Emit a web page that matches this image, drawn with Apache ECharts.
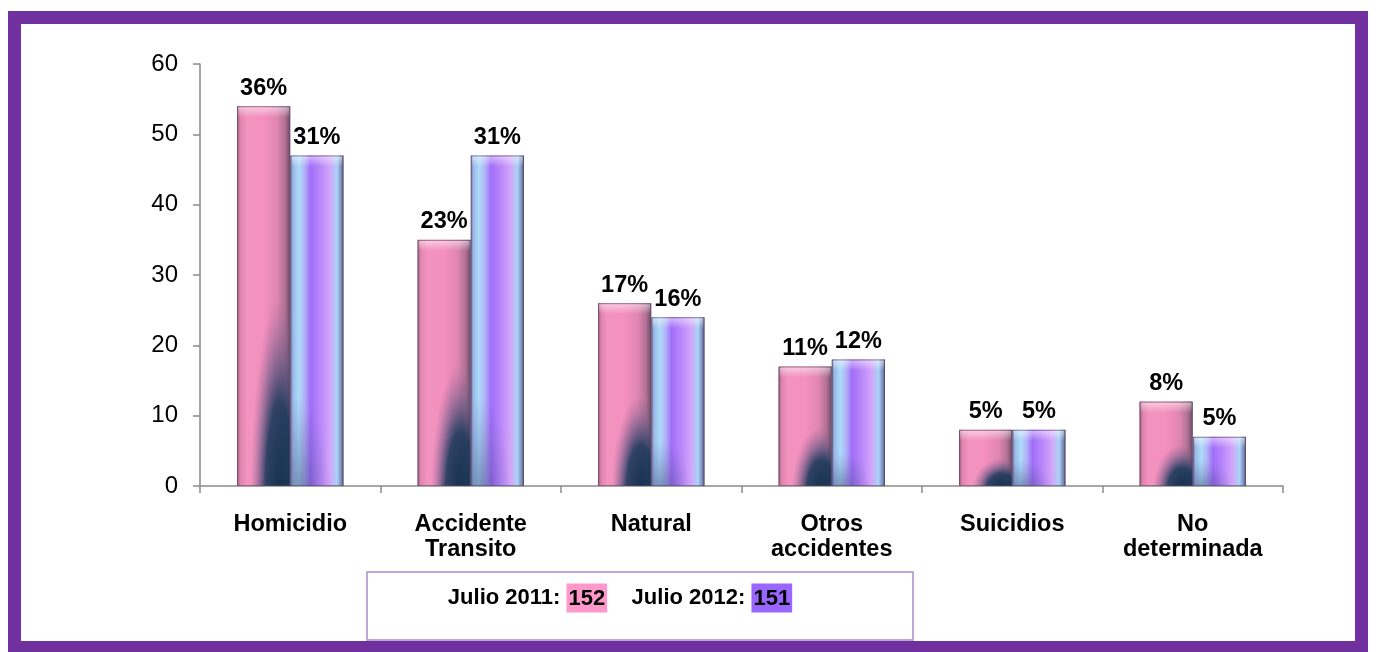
<!DOCTYPE html>
<html>
<head>
<meta charset="utf-8">
<script src="https://cdn.jsdelivr.net/npm/echarts@6/dist/echarts.min.js"></script>
<style>
html,body{margin:0;padding:0;background:#fff;}
#chart{width:1376px;height:652px;}
</style>
</head>
<body>
<div id="chart"></div>
<script>
var categories = ['Homicidio', 'Accidente\nTransito', 'Natural', 'Otros\naccidentes', 'Suicidios', 'No\ndeterminada'];
var values2011 = [54, 35, 26, 17, 8, 12];
var values2012 = [47, 47, 24, 18, 8, 7];
var pct2011 = ['36%', '23%', '17%', '11%', '5%', '8%'];
var pct2012 = ['31%', '31%', '16%', '12%', '5%', '5%'];
var total2011 = 152;
var total2012 = 151;
var yTicks = {min: 0, max: 60, interval: 10};

var FONT = '"Liberation Sans", Arial, Helvetica, sans-serif';
var chart = echarts.init(document.getElementById('chart'));

var BAR_FRACTION = 0.295;

function toData(values) {
  return values.map(function (v, i) { return [i, v]; });
}

var pinkStops = [
  {offset: 0, color: '#8f5a78'},
  {offset: 0.06, color: '#e084ae'},
  {offset: 0.18, color: '#f294bf'},
  {offset: 0.5, color: '#f490be'},
  {offset: 0.75, color: '#e086b2'},
  {offset: 0.9, color: '#b27294'},
  {offset: 1, color: '#6e4a66'}
];
var purpleStops = [
  {offset: 0, color: '#6c6c98'},
  {offset: 0.05, color: '#9ab8e8'},
  {offset: 0.16, color: '#acdcf8'},
  {offset: 0.27, color: '#b2b2f8'},
  {offset: 0.38, color: '#a06ef8'},
  {offset: 0.6, color: '#bf8cfa'},
  {offset: 0.75, color: '#d2a6fa'},
  {offset: 0.88, color: '#a8d4f6'},
  {offset: 0.96, color: '#7a88b8'},
  {offset: 1, color: '#4c4c6c'}
];
var pinkShadow = [
  {offset: 0, color: 'rgba(12,44,72,0.97)'},
  {offset: 0.5, color: 'rgba(22,56,90,0.88)'},
  {offset: 0.78, color: 'rgba(90,86,130,0.4)'},
  {offset: 1, color: 'rgba(150,100,150,0)'}
];
var purpleShadow = [
  {offset: 0, color: 'rgba(30,50,90,0.45)'},
  {offset: 0.6, color: 'rgba(60,70,130,0.18)'},
  {offset: 1, color: 'rgba(90,90,160,0)'}
];

function makeRenderer(side, stops, shadowStops, shadowCx, shadowRx, shadowScale, labels) {
  return function (params, api) {
    var idx = api.value(0);
    var val = api.value(1);
    var p0 = api.coord([idx, 0]);
    var p1 = api.coord([idx, val]);
    var band = api.size([1, 0])[0];
    var bw = band * BAR_FRACTION;
    var left = p0[0] - bw + side * bw;
    var top = p1[1];
    var h = p0[1] - p1[1];
    var rx = bw * shadowRx;
    var ry = Math.max(h * shadowScale, rx);
    var s = ry / rx;
    var capH = Math.min(10, h);
    return {
      type: 'group',
      children: [
        {
          type: 'rect',
          shape: {x: left, y: top, width: bw, height: h},
          style: {fill: new echarts.graphic.LinearGradient(0, 0, 1, 0, stops)},
          textContent: {
            style: {
              text: labels[params.dataIndex],
              fill: '#000',
              fontFamily: FONT,
              fontWeight: 'bold',
              fontSize: 23.5
            }
          },
          textConfig: {position: 'top', distance: 6}
        },
        {
          type: 'rect',
          x: left, y: top, scaleY: s,
          shape: {x: 0, y: 0, width: bw, height: h / s},
          style: {fill: new echarts.graphic.RadialGradient(bw * shadowCx, h / s + rx * 0.1, rx, shadowStops, true)},
          silent: true
        },
        {
          type: 'rect',
          shape: {x: left + 1, y: top + 1, width: bw - 2, height: capH},
          style: {fill: new echarts.graphic.LinearGradient(0, 0, 0, 1, [
            {offset: 0, color: 'rgba(255,255,255,0.5)'},
            {offset: 0.6, color: 'rgba(255,255,255,0.2)'},
            {offset: 1, color: 'rgba(255,255,255,0)'}
          ])},
          silent: true
        },
        {
          type: 'rect',
          shape: {x: left + 0.5, y: top + 0.5, width: bw - 1, height: h - 1},
          style: {fill: 'none', stroke: 'rgba(95,70,100,0.55)', lineWidth: 1},
          silent: true
        }
      ]
    };
  };
}

chart.setOption({
  animation: false,
  backgroundColor: '#fff',
  grid: {left: 200, right: 93, top: 64, bottom: 166, containLabel: false},
  xAxis: {
    type: 'category',
    data: categories,
    axisLine: {show: true, lineStyle: {color: '#8a8a8a', width: 1.5}},
    axisTick: {show: true, length: 7, lineStyle: {color: '#8a8a8a', width: 1.5}},
    axisLabel: {
      color: '#000', fontFamily: FONT, fontWeight: 'bold', fontSize: 23.5,
      lineHeight: 25, margin: 26, interval: 0
    }
  },
  yAxis: {
    type: 'value',
    min: yTicks.min, max: yTicks.max, interval: yTicks.interval,
    splitLine: {show: false},
    axisLine: {show: true, lineStyle: {color: '#8a8a8a', width: 1.5}},
    axisTick: {show: true, length: 7, lineStyle: {color: '#8a8a8a', width: 1.5}},
    axisLabel: {color: '#000', fontFamily: FONT, fontSize: 24, margin: 22}
  },
  series: [
    {
      name: 'Julio 2011',
      type: 'custom',
      data: toData(values2011),
      encode: {x: 0, y: 1},
      renderItem: makeRenderer(0, pinkStops, pinkShadow, 0.8, 0.55, 0.55, pct2011)
    },
    {
      name: 'Julio 2012',
      type: 'custom',
      data: toData(values2012),
      encode: {x: 0, y: 1},
      renderItem: makeRenderer(1, purpleStops, purpleShadow, 0.2, 0.55, 0.3, pct2012)
    }
  ],
  graphic: [
    {
      type: 'rect',
      shape: {x: 14.5, y: 17.5, width: 1347, height: 630},
      style: {fill: 'none', stroke: '#7030a0', lineWidth: 13},
      silent: true, z: 10
    },
    {
      type: 'rect',
      shape: {x: 367, y: 572, width: 546, height: 68},
      style: {fill: '#fff', stroke: '#bba9d4', lineWidth: 2},
      silent: true
    },
    {
      type: 'text',
      x: 620, y: 598,
      style: {
        text: '{t|Julio 2011: }{a|' + total2011 + '}{t|    Julio 2012: }{b|' + total2012 + '}',
        align: 'center', verticalAlign: 'middle',
        rich: {
          t: {fontFamily: FONT, fontWeight: 'bold', fontSize: 22, color: '#000'},
          a: {fontFamily: FONT, fontWeight: 'bold', fontSize: 22, color: '#000', backgroundColor: '#ff99cc', padding: [4, 2, 3, 2]},
          b: {fontFamily: FONT, fontWeight: 'bold', fontSize: 22, color: '#000', backgroundColor: '#9966ff', padding: [4, 2, 3, 2]}
        }
      },
      silent: true
    }
  ]
});
</script>
</body>
</html>
